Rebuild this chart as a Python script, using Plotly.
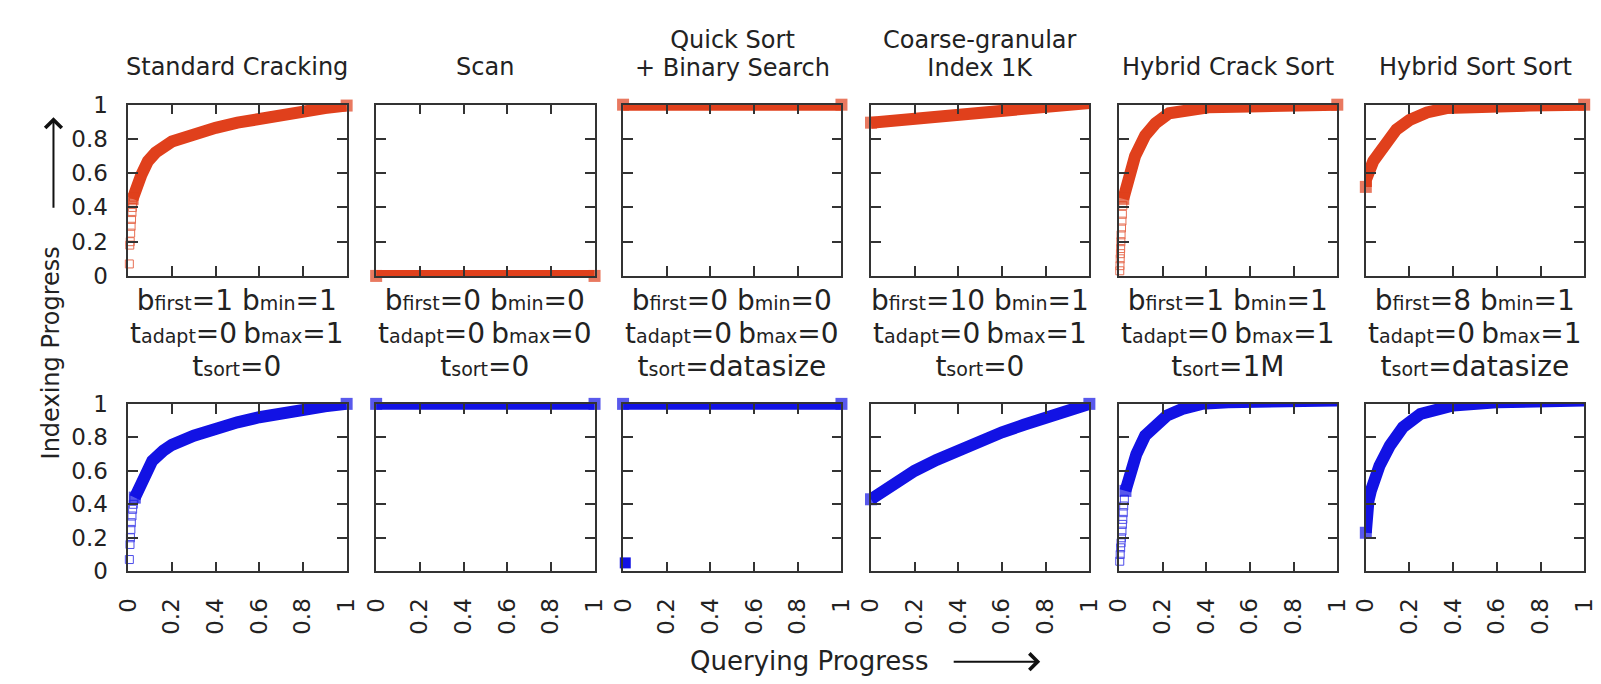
import plotly.graph_objects as go

W, H = 1601, 684

# ---------------- text data ----------------
title_upper = ["", "", "Quick Sort", "Coarse-granular", "", ""]
title_lower = ["Standard Cracking", "Scan", "+ Binary Search", "Index 1K",
               "Hybrid Crack Sort", "Hybrid Sort Sort"]
b_first = ["1", "0", "0", "10", "1", "8"]
b_min = ["1", "0", "0", "1", "1", "1"]
t_adapt = ["0", "0", "0", "0", "0", "0"]
b_max = ["1", "0", "0", "1", "1", "1"]
t_sort = ["0", "0", "datasize", "0", "1M", "datasize"]
axis_ticks = [0, 0.2, 0.4, 0.6, 0.8, 1]

# ---------------- top row (red) curves ----------------
red_sc_x = [0.02, 0.03, 0.06, 0.09, 0.125, 0.2, 0.3, 0.4, 0.5, 0.6, 0.7, 0.8, 0.9, 1.0]
red_sc_y = [0.45, 0.5, 0.59, 0.67, 0.72, 0.785, 0.83, 0.865, 0.895, 0.92, 0.945, 0.965, 0.98, 0.995]
red_sc_sparse_x = [0.005, 0.007, 0.009, 0.011, 0.013, 0.015, 0.017, 0.019, 0.021, 0.024]
red_sc_sparse_y = [0.07, 0.18, 0.2, 0.25, 0.29, 0.33, 0.37, 0.4, 0.43, 0.46]

red_scan_x = [0.0, 0.5, 1.0]
red_scan_y = [0.0, 0.0, 0.0]

red_qs_x = [0.0, 0.5, 1.0]
red_qs_y = [1.0, 1.0, 1.0]

red_cg_x = [0.0, 0.25, 0.5, 0.75, 1.0]
red_cg_y = [0.895, 0.925, 0.955, 0.985, 1.01]

red_hcs_x = [0.02, 0.043, 0.074, 0.12, 0.167, 0.23, 0.3, 0.41, 0.6, 0.8, 1.0]
red_hcs_y = [0.45, 0.59, 0.70, 0.82, 0.89, 0.95, 0.97, 0.985, 0.99, 0.995, 1.0]
red_hcs_sparse_x = [0.004, 0.005, 0.006, 0.007, 0.008, 0.009, 0.010, 0.012, 0.014, 0.016, 0.018]
red_hcs_sparse_y = [0.03, 0.06, 0.1, 0.13, 0.16, 0.2, 0.24, 0.28, 0.32, 0.36, 0.41]

red_hss_x = [0.0, 0.0, 0.034, 0.08, 0.14, 0.2, 0.28, 0.37, 0.5, 0.75, 1.0]
red_hss_y = [0.52, 0.56, 0.67, 0.76, 0.855, 0.91, 0.955, 0.98, 0.99, 0.995, 1.0]

# ---------------- bottom row (blue) curves ----------------
blue_sc_x = [0.03, 0.045, 0.07, 0.11, 0.16, 0.2, 0.3, 0.4, 0.5, 0.6, 0.7, 0.8, 0.9, 1.0]
blue_sc_y = [0.44, 0.49, 0.56, 0.66, 0.72, 0.755, 0.81, 0.855, 0.89, 0.92, 0.945, 0.97, 0.985, 1.0]
blue_sc_sparse_x = [0.005, 0.008, 0.01, 0.012, 0.014, 0.017, 0.02, 0.023, 0.026]
blue_sc_sparse_y = [0.07, 0.16, 0.2, 0.25, 0.29, 0.33, 0.37, 0.4, 0.43]

blue_scan_x = [0.0, 0.5, 1.0]
blue_scan_y = [1.0, 1.0, 1.0]

blue_qs_x = [0.0, 0.5, 1.0]
blue_qs_y = [1.0, 1.0, 1.0]
blue_qs_point_x = [0.01]
blue_qs_point_y = [0.05]

blue_cg_x = [0.0, 0.1, 0.2, 0.3, 0.4, 0.5, 0.6, 0.7, 0.8, 0.9, 1.0]
blue_cg_y = [0.43, 0.52, 0.6, 0.665, 0.725, 0.78, 0.83, 0.875, 0.92, 0.96, 1.0]

blue_hcs_x = [0.03, 0.05, 0.08, 0.12, 0.17, 0.22, 0.29, 0.38, 0.5, 0.7, 1.0]
blue_hcs_y = [0.48, 0.59, 0.70, 0.81, 0.88, 0.93, 0.97, 1.0, 1.01, 1.015, 1.02]
blue_hcs_sparse_x = [0.004, 0.006, 0.008, 0.01, 0.012, 0.014, 0.016, 0.018, 0.02, 0.022, 0.025]
blue_hcs_sparse_y = [0.06, 0.1, 0.14, 0.17, 0.2, 0.24, 0.28, 0.31, 0.35, 0.39, 0.43]

blue_hss_x = [0.0, 0.0, 0.005, 0.012, 0.023, 0.0625, 0.11, 0.17, 0.25, 0.33, 0.4, 0.6, 1.0]
blue_hss_y = [0.23, 0.3, 0.36, 0.42, 0.48, 0.63, 0.75, 0.86, 0.94, 0.97, 0.99, 1.01, 1.02]

red_bands = [(red_sc_x, red_sc_y), (red_scan_x, red_scan_y), (red_qs_x, red_qs_y),
             (red_cg_x, red_cg_y), (red_hcs_x, red_hcs_y), (red_hss_x, red_hss_y)]
red_sparse = [(red_sc_sparse_x, red_sc_sparse_y), None, None, None,
              (red_hcs_sparse_x, red_hcs_sparse_y), None]
blue_bands = [(blue_sc_x, blue_sc_y), (blue_scan_x, blue_scan_y), (blue_qs_x, blue_qs_y),
              (blue_cg_x, blue_cg_y), (blue_hcs_x, blue_hcs_y), (blue_hss_x, blue_hss_y)]
blue_sparse = [(blue_sc_sparse_x, blue_sc_sparse_y), None, None, None,
               (blue_hcs_sparse_x, blue_hcs_sparse_y), None]

# ---------------- layout geometry (figure pixels) ----------------
RED = "#e0401c"
BLUE = "#1212e4"
INK = "#222"
FONT = "DejaVu Sans, Liberation Sans, Arial, sans-serif"
lefts = [108, 360, 611, 863, 1115, 1366]
pw = 222
rows_px = [(87, 265), (398, 572)]


def px_x(p):
    return p / W


def px_y(p):
    return 1 - p / H


fig = go.Figure()
layout_axes = {}
idx = 0
for r, (top, bot) in enumerate(rows_px):
    bands = red_bands if r == 0 else blue_bands
    sparse = red_sparse if r == 0 else blue_sparse
    color = RED if r == 0 else BLUE
    for c in range(6):
        idx += 1
        xa = "x" if idx == 1 else f"x{idx}"
        ya = "y" if idx == 1 else f"y{idx}"
        xk = "xaxis" if idx == 1 else f"xaxis{idx}"
        yk = "yaxis" if idx == 1 else f"yaxis{idx}"
        common = dict(range=[0, 1], tickvals=axis_ticks, ticks="inside", ticklen=10,
                      tickwidth=1.5, tickcolor="#333", showline=True, linecolor="#333",
                      linewidth=1.5, mirror="ticks", showgrid=False, zeroline=False,
                      tickfont=dict(family=FONT, size=23, color=INK), fixedrange=True)
        layout_axes[xk] = dict(common, domain=[px_x(lefts[c]), px_x(lefts[c] + pw)],
                               anchor=ya, showticklabels=(r == 1), tickangle=-90,
                               ticklabelstandoff=16)
        layout_axes[yk] = dict(common, domain=[px_y(bot), px_y(top)], anchor=xa,
                               showticklabels=(c == 0), ticklabelstandoff=14)
        bx, by = bands[c]
        sizes = [12] + [0] * (len(bx) - 2) + [12]
        fig.add_trace(go.Scatter(x=bx, y=by, xaxis=xa, yaxis=ya, mode="lines+markers",
                                 line=dict(color=color, width=12),
                                 marker=dict(symbol="square", size=sizes, color=color,
                                             line=dict(width=0)),
                                 cliponaxis=False, showlegend=False, hoverinfo="skip"))
        if sparse[c] is not None:
            sx, sy = sparse[c]
            fig.add_trace(go.Scatter(x=sx, y=sy, xaxis=xa, yaxis=ya, mode="markers",
                                     marker=dict(symbol="square-open", size=8, color=color,
                                                 line=dict(width=1, color=color)),
                                     opacity=0.75, cliponaxis=False, showlegend=False,
                                     hoverinfo="skip"))
        if r == 1 and c == 2:
            fig.add_trace(go.Scatter(x=blue_qs_point_x, y=blue_qs_point_y, xaxis=xa, yaxis=ya,
                                     mode="markers",
                                     marker=dict(symbol="square", size=11, color=color),
                                     cliponaxis=False, showlegend=False, hoverinfo="skip"))

annotations = []
NB = "\u00a0"


def span(txt, size):
    return f"<span style='font-size:{size}px'>{txt}</span>"


def add_text(x, y, text, size, **kw):
    annotations.append(dict(x=px_x(x), y=px_y(y), xref="paper", yref="paper", text=text,
                            showarrow=False, xanchor="center", yanchor="middle", borderpad=0,
                            font=dict(family=FONT, size=size, color=INK), **kw))


BIG, SMALL = 28, 19
for c in range(6):
    cx = lefts[c] + pw / 2
    if title_upper[c]:
        # base size sets the line pitch, span sets the glyph size
        add_text(cx, 34.5, span(title_upper[c], 24) + "<br>" + span(title_lower[c], 24), 21.6)
    else:
        add_text(cx, 48, title_lower[c], 24)
    line1 = (span("b", BIG) + span("first", SMALL) + span("=" + b_first[c] + NB + "b", BIG)
             + span("min", SMALL) + span("=" + b_min[c], BIG))
    line2 = (span("t", BIG) + span("adapt", SMALL) + span("=" + t_adapt[c], BIG) + span(NB, SMALL)
             + span("b", BIG) + span("max", SMALL) + span("=" + b_max[c], BIG))
    line3 = span("t", BIG) + span("sort", SMALL) + span("=" + t_sort[c], BIG)
    add_text(cx, 325, line1 + "<br>" + line2 + "<br>" + line3, 25.3)

# axis titles and arrows
add_text(29, 345, "Indexing Progress", 24, textangle=-90)
annotations.append(dict(x=px_x(32), y=px_y(100), xref="paper", yref="paper", text="",
                        showarrow=True, ax=0, ay=92, arrowhead=4, arrowsize=1.6,
                        arrowwidth=2, arrowcolor="#111", standoff=0))
add_text(800, 665, "Querying Progress", 26)
annotations.append(dict(x=px_x(1035), y=px_y(666), xref="paper", yref="paper", text="",
                        showarrow=True, ax=-88, ay=0, arrowhead=4, arrowsize=1.6,
                        arrowwidth=2, arrowcolor="#111", standoff=0))

fig.update_layout(width=W, height=H, margin=dict(l=0, r=0, t=0, b=0),
                  paper_bgcolor="white", plot_bgcolor="white",
                  annotations=annotations, **layout_axes)
fig.write_html("out.html")
